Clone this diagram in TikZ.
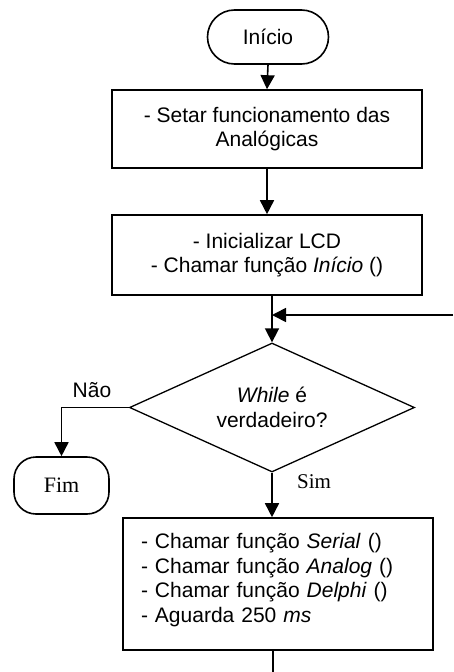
\documentclass[tikz,border=0pt]{standalone}
\usepackage{fontspec}
\setmainfont{Liberation Sans}
\newfontfamily\timesf{Liberation Serif}
\usetikzlibrary{shapes.geometric,arrows.meta}
\begin{document}
\begin{tikzpicture}[x=1pt,y=1pt,
  every node/.style={font=\fontsize{21}{24.5}\selectfont},
  flow/.style={line width=1.6pt,-{Triangle[length=14pt,width=14pt]}},
  plain/.style={line width=1.6pt},
  procbox/.style={draw,line width=1.6pt,minimum width=310pt,inner sep=0pt,align=center},
  termbox/.style={draw,line width=1.6pt,inner sep=0pt},
  decis/.style={draw,line width=1.3pt,diamond,aspect=2.2,minimum width=285pt,minimum height=129pt,inner sep=0pt,align=center}]
\useasboundingbox (0,0) rectangle (453,-672);
\node[termbox,rounded corners=27pt,minimum width=121pt,minimum height=54pt] (st) at (268,-37) {Início};
\node[procbox,minimum height=78pt] (b1) at (267,-129) {- Setar funcionamento das\\Analógicas};
\node[procbox,minimum height=80pt] (b2) at (267,-255) {- Inicializar LCD\\- Chamar função \textit{Início} ()};
\node[decis] (d) at (272,-407.5) {\textit{While} é\\verdadeiro?};
\node[procbox,minimum height=132pt,text width=274pt,align=left,inner xsep=18pt] (b3) at (278,-584) {- Chamar função \textit{Serial} ()\\- Chamar função \textit{Analog} ()\\- Chamar função \textit{Delphi} ()\\- Aguarda 250 \textit{ms}\\[-12pt]\mbox{}};
\node[termbox,rounded corners=22pt,minimum width=95pt,minimum height=57pt,font=\timesf\fontsize{22}{24}\selectfont] (fim) at (61.5,-485.5) {Fim};
\node (nao) at (92,-390) {Não};
\node[font=\timesf\fontsize{21}{24}\selectfont] (sim) at (314,-482) {Sim};
\coordinate (loopin) at (453,-315);
\coordinate (j) at (272,-315);
\coordinate (endpt) at (273,-672);
\draw[flow] (st.south) -- (b1.north);
\draw[flow] (b1.south) -- (b2.north);
\draw[flow] (b2.south -| d.north) -- (d.north);
\draw[flow] (loopin) -- (j);
\draw[flow] (d.west) -| (fim.north);
\draw[flow] (d.south) -- (d.south |- b3.north);
\draw[plain] (b3.south -| endpt) -- (endpt);
\end{tikzpicture}
\end{document}
